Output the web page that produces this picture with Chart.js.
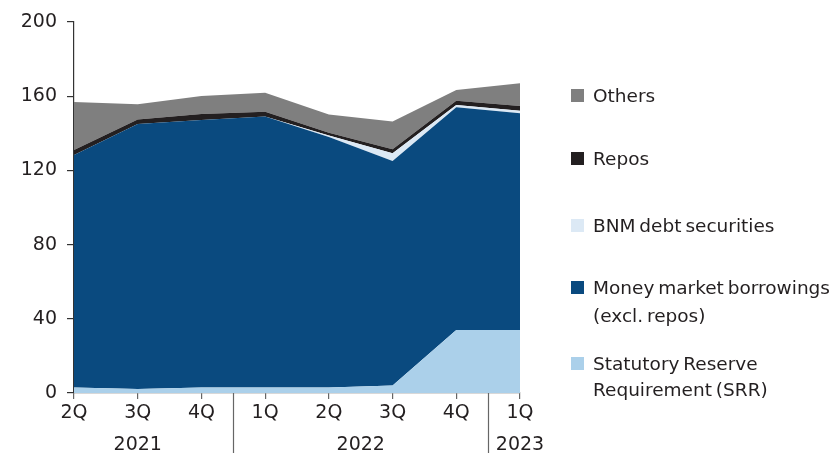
<!DOCTYPE html>
<html>
<head>
<meta charset="utf-8">
<script src="https://cdn.jsdelivr.net/npm/chart.js@4"></script>
<style>
  html,body{margin:0;padding:0;background:#fff;}
  #wrap{position:relative;width:834px;height:456px;}
  canvas{position:absolute;left:0;top:0;}
  #legend{position:absolute;left:571px;top:0;width:263px;height:456px;font-family:"DejaVu Sans",sans-serif;font-size:18.5px;color:#231f20;}
  .sw{position:absolute;left:0;width:13px;height:13px;}
  .txt{position:absolute;left:22px;line-height:27px;white-space:nowrap;word-spacing:-2px;}
</style>
</head>
<body>
<div id="wrap">
  <canvas id="c" width="834" height="456"></canvas>
  <div id="legend"></div>
</div>
<script>
const quarters = ["2Q","3Q","4Q","1Q","2Q","3Q","4Q","1Q"];
const years = [
  {label:"2021", from:0, to:2},
  {label:"2022", from:3, to:6},
  {label:"2023", from:7, to:7}
];
const yTicks = [0,40,80,120,160,200];

const srr    = [2.9, 2.2, 3.0, 3.0, 3.0, 4.0, 34.0, 34.0];
const mmb    = [125.4, 142.8, 144.2, 146.0, 135.0, 121.1, 120.0, 116.8];
const bnm    = [0, 0, 0, 0, 0.8, 4.1, 1.3, 1.4];
const repos  = [2.7, 2.5, 3.2, 2.6, 1.5, 2.2, 2.2, 2.5];
const others = [25.9, 8.1, 9.7, 10.3, 9.9, 14.9, 5.8, 12.3];

const seriesNames = ["Statutory Reserve\nRequirement (SRR)","Money market borrowings\n(excl. repos)","BNM debt securities","Repos","Others"];
const seriesColors = ["#abd0ea","#0a4a7f","#dce9f5","#231f20","#7f7f7f"];
const seriesData = [srr, mmb, bnm, repos, others];

const datasets = seriesData.map((d,i)=>({
  label: seriesNames[i],
  data: d,
  backgroundColor: seriesColors[i],
  borderColor: seriesColors[i],
  borderWidth: 0,
  pointRadius: 0,
  tension: 0,
  fill: i===0 ? 'origin' : '-1'
}));

const textColor = "#231f20";
const fontFamily = '"DejaVu Sans", sans-serif';

const yearPlugin = {
  id:'years',
  afterDraw(chart){
    const ctx = chart.ctx;
    const xs = chart.scales.x;
    const bottom = chart.chartArea.bottom;
    ctx.save();
    ctx.strokeStyle = "#666";
    ctx.lineWidth = 1.2;
    for (let k=0;k<years.length-1;k++){
      const a = xs.getPixelForValue(years[k].to), b = xs.getPixelForValue(years[k+1].from);
      const x = Math.round((a+b)/2)+0.5;
      ctx.beginPath(); ctx.moveTo(x,bottom); ctx.lineTo(x,bottom+60); ctx.stroke();
    }
    ctx.fillStyle = textColor;
    ctx.font = "19px " + fontFamily;
    ctx.textAlign = "center";
    ctx.textBaseline = "middle";
    years.forEach(y=>{
      const x = (xs.getPixelForValue(y.from)+xs.getPixelForValue(y.to))/2;
      ctx.fillText(y.label, x, bottom+52);
    });
    ctx.restore();
  }
};

new Chart(document.getElementById('c'), {
  type:'line',
  data:{labels:quarters, datasets},
  options:{
    responsive:false,
    animation:false,
    layout:{padding:{top:22,right:314,bottom:0,left:0}},
    plugins:{legend:{display:false},tooltip:{enabled:false}},
    elements:{line:{borderWidth:0}},
    scales:{
      x:{
        offset:false,
        grid:{drawOnChartArea:false,drawTicks:true,tickLength:6,color:"#666",lineWidth:1.2},
        border:{display:true,color:"#666",width:1.2},
        ticks:{color:textColor,font:{size:19,family:fontFamily},padding:3,maxRotation:0,autoSkip:false},
        afterFit(s){s.height=63;}
      },
      y:{
        stacked:true,
        min:0,max:200,
        afterBuildTicks(s){s.ticks = yTicks.map(v=>({value:v}));},
        grid:{drawOnChartArea:false,drawTicks:true,tickLength:7,color:"#333",lineWidth:1.2},
        border:{display:true,color:"#333",width:1.2},
        ticks:{color:textColor,font:{size:19,family:fontFamily},padding:10},
        afterFit(s){s.width=74;}
      }
    }
  },
  plugins:[yearPlugin]
});

// HTML legend (top to bottom: reverse of stacking order)
const legendTops = [{sq:95,lines:[95]},{sq:158,lines:[158]},{sq:225,lines:[225]},{sq:287,lines:[287,315]},{sq:363,lines:[363,389]}];
const lg = document.getElementById('legend');
[4,3,2,1,0].forEach((idx,k)=>{
  const pos = legendTops[k];
  const sw = document.createElement('div');
  sw.className='sw';
  sw.style.top = (pos.sq-6.5)+'px';
  sw.style.background = seriesColors[idx];
  lg.appendChild(sw);
  seriesNames[idx].split("\n").forEach((line,j)=>{
    const t = document.createElement('div');
    t.className='txt';
    t.style.top = (pos.lines[j]-13.5)+'px';
    t.textContent = line;
    lg.appendChild(t);
  });
});
</script>
</body>
</html>
